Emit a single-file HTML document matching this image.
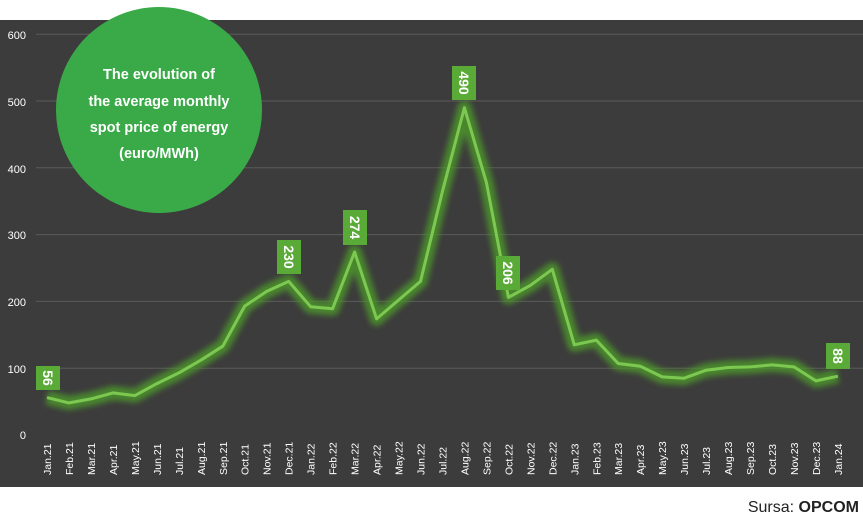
<!DOCTYPE html>
<html><head><meta charset="utf-8"><style>
html,body{margin:0;padding:0;background:#fff;width:863px;height:523px;overflow:hidden}
svg{display:block}
</style></head><body>
<svg width="863" height="523" viewBox="0 0 863 523" xmlns="http://www.w3.org/2000/svg" font-family="'Liberation Sans', sans-serif">
<defs><filter id="g" x="-10%" y="-10%" width="120%" height="120%"><feGaussianBlur stdDeviation="3"/></filter></defs>
<rect x="0" y="0" width="863" height="523" fill="#fff"/>
<rect x="0" y="20" width="863" height="467" fill="#3c3c3c"/>
<g stroke="#5a5a5a" stroke-width="1">
<line x1="36" x2="863" y1="34.2" y2="34.2"/><line x1="36" x2="863" y1="101" y2="101"/><line x1="36" x2="863" y1="167.8" y2="167.8"/><line x1="36" x2="863" y1="234.6" y2="234.6"/><line x1="36" x2="863" y1="301.4" y2="301.4"/><line x1="36" x2="863" y1="368.2" y2="368.2"/>
</g>
<g fill="#fff" font-size="11" text-anchor="end">
<text x="26" y="39">600</text><text x="26" y="106">500</text><text x="26" y="173">400</text><text x="26" y="239">300</text><text x="26" y="306">200</text><text x="26" y="373">100</text><text x="26" y="439">0</text>
</g>
<polyline id="pl" fill="none" stroke="#4e9a2c" stroke-width="14" stroke-linejoin="round" opacity="0.8" filter="url(#g)" points="47.0,397.6 69.0,402.9 90.9,398.9 112.9,392.9 134.9,395.6 156.9,383.6 178.8,372.9 200.8,360.2 222.8,346.2 244.7,306.1 266.7,291.4 288.7,281.4 310.6,306.7 332.6,308.7 354.6,252.0 376.6,318.8 398.5,300.1 420.5,281.4 442.5,191.2 464.4,107.7 486.4,182.5 508.4,297.4 530.3,285.4 552.3,269.3 574.3,344.8 596.3,340.1 618.2,363.5 640.2,366.2 662.2,376.9 684.1,378.2 706.1,370.2 728.1,367.5 750.0,366.9 772.0,364.9 794.0,366.9 816.0,380.9 837.9,376.2"/>
<polyline fill="none" stroke="#7cc850" stroke-width="3" stroke-linejoin="round" points="47.0,397.6 69.0,402.9 90.9,398.9 112.9,392.9 134.9,395.6 156.9,383.6 178.8,372.9 200.8,360.2 222.8,346.2 244.7,306.1 266.7,291.4 288.7,281.4 310.6,306.7 332.6,308.7 354.6,252.0 376.6,318.8 398.5,300.1 420.5,281.4 442.5,191.2 464.4,107.7 486.4,182.5 508.4,297.4 530.3,285.4 552.3,269.3 574.3,344.8 596.3,340.1 618.2,363.5 640.2,366.2 662.2,376.9 684.1,378.2 706.1,370.2 728.1,367.5 750.0,366.9 772.0,364.9 794.0,366.9 816.0,380.9 837.9,376.2"/>
<circle cx="159" cy="110" r="103" fill="#3aaa48"/>
<g fill="#fff" font-size="14.5" font-weight="bold" text-anchor="middle">
<text x="159" y="79">The evolution of</text>
<text x="159" y="106">the average monthly</text>
<text x="159" y="132">spot price of energy</text>
<text x="159" y="158">(euro/MWh)</text>
</g>
<g fill="#5aaa38">
<rect x="36" y="366" width="24" height="24"/><rect x="277" y="240" width="24" height="34"/><rect x="343" y="210" width="24" height="35"/><rect x="452" y="66" width="24" height="34"/><rect x="496" y="256" width="24" height="34"/><rect x="826" y="343" width="24" height="26"/>
</g>
<g fill="#fff" font-weight="bold" font-size="14" text-anchor="middle">
<text transform="translate(43,378) rotate(90)">56</text>
<text transform="translate(284,257) rotate(90)">230</text>
<text transform="translate(350,227.5) rotate(90)">274</text>
<text transform="translate(459,83) rotate(90)">490</text>
<text transform="translate(503,273) rotate(90)">206</text>
<text transform="translate(833,356) rotate(90)">88</text>
</g>
<g fill="#fff" font-size="10.5">
<text transform="translate(51,475) rotate(-90)">Jan.21</text>
<text transform="translate(73,475) rotate(-90)">Feb.21</text>
<text transform="translate(94.9,475) rotate(-90)">Mar.21</text>
<text transform="translate(116.9,475) rotate(-90)">Apr.21</text>
<text transform="translate(138.9,475) rotate(-90)">May.21</text>
<text transform="translate(160.9,475) rotate(-90)">Jun.21</text>
<text transform="translate(182.8,475) rotate(-90)">Jul.21</text>
<text transform="translate(204.8,475) rotate(-90)">Aug.21</text>
<text transform="translate(226.8,475) rotate(-90)">Sep.21</text>
<text transform="translate(248.7,475) rotate(-90)">Oct.21</text>
<text transform="translate(270.7,475) rotate(-90)">Nov.21</text>
<text transform="translate(292.7,475) rotate(-90)">Dec.21</text>
<text transform="translate(314.6,475) rotate(-90)">Jan.22</text>
<text transform="translate(336.6,475) rotate(-90)">Feb.22</text>
<text transform="translate(358.6,475) rotate(-90)">Mar.22</text>
<text transform="translate(380.6,475) rotate(-90)">Apr.22</text>
<text transform="translate(402.5,475) rotate(-90)">May.22</text>
<text transform="translate(424.5,475) rotate(-90)">Jun.22</text>
<text transform="translate(446.5,475) rotate(-90)">Jul.22</text>
<text transform="translate(468.4,475) rotate(-90)">Aug.22</text>
<text transform="translate(490.4,475) rotate(-90)">Sep.22</text>
<text transform="translate(512.4,475) rotate(-90)">Oct.22</text>
<text transform="translate(534.3,475) rotate(-90)">Nov.22</text>
<text transform="translate(556.3,475) rotate(-90)">Dec.22</text>
<text transform="translate(578.3,475) rotate(-90)">Jan.23</text>
<text transform="translate(600.3,475) rotate(-90)">Feb.23</text>
<text transform="translate(622.2,475) rotate(-90)">Mar.23</text>
<text transform="translate(644.2,475) rotate(-90)">Apr.23</text>
<text transform="translate(666.2,475) rotate(-90)">May.23</text>
<text transform="translate(688.1,475) rotate(-90)">Jun.23</text>
<text transform="translate(710.1,475) rotate(-90)">Jul.23</text>
<text transform="translate(732.1,475) rotate(-90)">Aug.23</text>
<text transform="translate(754,475) rotate(-90)">Sep.23</text>
<text transform="translate(776,475) rotate(-90)">Oct.23</text>
<text transform="translate(798,475) rotate(-90)">Nov.23</text>
<text transform="translate(820,475) rotate(-90)">Dec.23</text>
<text transform="translate(841.9,475) rotate(-90)">Jan.24</text>
</g>
<text x="859" y="512" text-anchor="end" font-size="16" fill="#222">Sursa: <tspan font-weight="bold">OPCOM</tspan></text>
</svg>
</body></html>
